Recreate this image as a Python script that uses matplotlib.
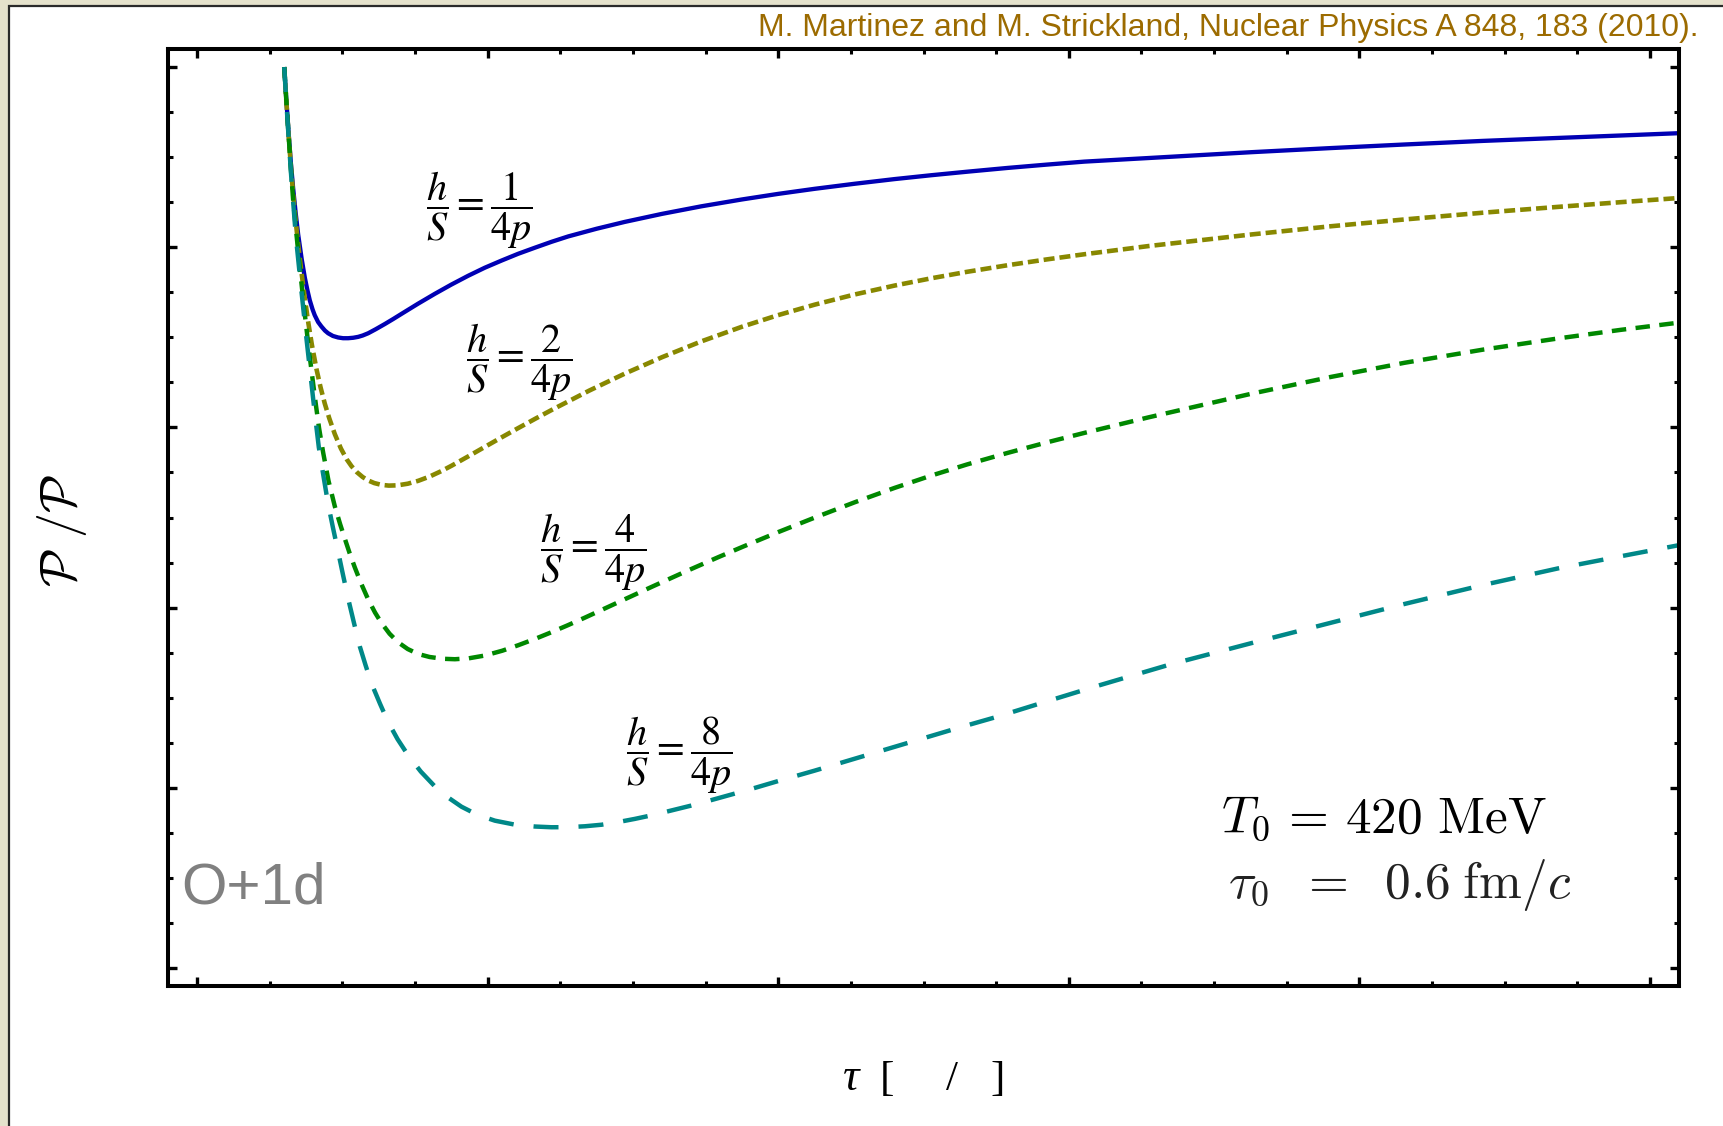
import matplotlib

matplotlib.use("Agg")

import matplotlib.pyplot as plt
from matplotlib.patches import Rectangle

plt.rcParams["lines.scale_dashes"] = False

# P_L/P_T versus tau (fm/c) for each eta/s value
tau_1 = [0.60, 0.615, 0.631, 0.646, 0.661, 0.678, 0.696, 0.72, 0.742, 0.76, 0.776, 0.795,
         0.81, 0.833, 0.856, 0.88, 0.902, 0.935, 0.971, 1.005, 1.04, 1.075, 1.109, 1.14,
         1.178, 1.23, 1.293, 1.35, 1.407, 1.52, 1.637, 1.75, 1.866, 1.98, 2.096, 2.21,
         2.326, 2.44, 2.555, 2.75, 2.944, 3.2, 3.471, 3.75, 4.0, 4.25, 4.525, 4.8, 5.053,
         5.3, 5.579, 5.85, 6.107, 6.55, 7.26, 7.8, 8.31, 8.85, 9.37, 9.8, 10.19]
ratio_1 = [1.000, 0.962, 0.925, 0.893, 0.866, 0.839, 0.814, 0.787, 0.766, 0.752, 0.741, 0.731,
           0.7245, 0.717, 0.712, 0.7075, 0.7045, 0.7015, 0.6998, 0.699, 0.699, 0.6995, 0.7005,
           0.702, 0.7045, 0.709, 0.7148, 0.7203, 0.726, 0.7372, 0.7483, 0.7585, 0.7683, 0.7772,
           0.7852, 0.7927, 0.7995, 0.806, 0.812, 0.8205, 0.8281, 0.837, 0.8454, 0.853, 0.8592,
           0.8648, 0.8704, 0.8756, 0.8799, 0.8838, 0.888, 0.8917, 0.895, 0.899, 0.9055, 0.910,
           0.914, 0.918, 0.9213, 0.924, 0.9265]

tau_2 = [0.60, 0.615, 0.631, 0.646, 0.661, 0.68, 0.70, 0.718, 0.74, 0.764, 0.79, 0.822, 0.85,
         0.879, 0.91, 0.948, 0.99, 1.03, 1.063, 1.1, 1.14, 1.178, 1.22, 1.27, 1.32, 1.38, 1.45,
         1.522, 1.6, 1.68, 1.751, 1.866, 1.981, 2.1, 2.21, 2.33, 2.44, 2.7, 2.944, 3.2, 3.471,
         3.75, 3.999, 4.25, 4.525, 4.8, 5.053, 5.3, 5.579, 5.85, 6.107, 6.55, 7.26, 7.8, 8.31,
         8.85, 9.37, 9.8, 10.19]
ratio_2 = [1.000, 0.961, 0.9226, 0.8896, 0.8596, 0.8273, 0.7973, 0.773, 0.7455, 0.7179, 0.6919,
           0.6647, 0.6445, 0.6265, 0.6101, 0.5926, 0.5766, 0.5646, 0.557, 0.5503, 0.5449, 0.5411,
           0.5382, 0.5362, 0.5354, 0.5357, 0.5375, 0.5407, 0.5454, 0.5514, 0.5574, 0.5678, 0.5784,
           0.5893, 0.5992, 0.6098, 0.6193, 0.6409, 0.6597, 0.6779, 0.6955, 0.7117, 0.7246, 0.7362,
           0.7475, 0.7574, 0.7655, 0.7727, 0.7800, 0.7865, 0.7922, 0.8013, 0.8142, 0.8232, 0.8308,
           0.8383, 0.8448, 0.8500, 0.8545]

tau_4 = [0.60, 0.615, 0.631, 0.646, 0.661, 0.68, 0.70, 0.718, 0.74, 0.76, 0.78, 0.799, 0.82,
         0.84, 0.868, 0.905, 0.948, 0.985, 1.017, 1.05, 1.086, 1.13, 1.178, 1.225, 1.269, 1.325,
         1.384, 1.45, 1.522, 1.6, 1.69, 1.775, 1.87, 1.981, 2.1, 2.21, 2.33, 2.44, 2.55, 2.67,
         2.79, 2.9, 3.129, 3.359, 3.588, 3.76, 4.0, 4.25, 4.525, 4.8, 5.053, 5.3, 5.579, 5.85,
         6.107, 6.55, 7.26, 7.8, 8.31, 8.85, 9.37, 9.8, 10.19]
ratio_4 = [1.000, 0.961, 0.922, 0.8865, 0.853, 0.821, 0.789, 0.761, 0.728, 0.700, 0.673, 0.6485,
           0.6225, 0.599, 0.572, 0.5405, 0.5125, 0.4925, 0.4765, 0.4605, 0.4445, 0.4265, 0.409,
           0.3945, 0.383, 0.371, 0.3615, 0.354, 0.3485, 0.3452, 0.3432, 0.3427, 0.3437, 0.3468,
           0.3521, 0.3582, 0.3655, 0.3727, 0.3803, 0.3889, 0.3978, 0.406, 0.423, 0.4398, 0.456,
           0.4678, 0.4838, 0.4998, 0.5168, 0.5328, 0.5465, 0.5589, 0.5717, 0.5834, 0.5939, 0.6112,
           0.6375, 0.6559, 0.6717, 0.6863, 0.6988, 0.7083, 0.7161]

tau_8 = [0.60, 0.615, 0.631, 0.65, 0.68, 0.718, 0.75, 0.783, 0.81, 0.838, 0.87, 0.902, 0.935,
         0.971, 1.005, 1.04, 1.08, 1.12, 1.16, 1.2, 1.26, 1.315, 1.38, 1.453, 1.54, 1.637, 1.73,
         1.82, 1.93, 2.05, 2.19, 2.326, 2.44, 2.555, 2.67, 2.784, 2.9, 3.014, 3.13, 3.244, 3.42,
         3.588, 3.8, 4.0, 4.25, 4.5, 4.75, 5.0, 5.25, 5.5, 5.85, 6.205, 6.7, 7.26, 7.8, 8.31,
         8.85, 9.37, 9.8, 10.19]
ratio_8 = [1.000, 0.960, 0.920, 0.874, 0.812, 0.752, 0.703, 0.655, 0.616, 0.578, 0.546, 0.515,
           0.489, 0.462, 0.436, 0.410, 0.383, 0.357, 0.336, 0.316, 0.293, 0.273, 0.254, 0.236,
           0.218, 0.2015, 0.189, 0.179, 0.170, 0.1635, 0.159, 0.157, 0.1562, 0.1563, 0.1573,
           0.159, 0.162, 0.1655, 0.1695, 0.174, 0.181, 0.1885, 0.198, 0.2075, 0.219, 0.231, 0.243,
           0.255, 0.267, 0.2785, 0.296, 0.3135, 0.337, 0.3607, 0.383, 0.404, 0.425, 0.4436, 0.457,
           0.469]

labels = [r"$\dfrac{h}{S} = \dfrac{1}{4p}$", r"$\dfrac{h}{S} = \dfrac{2}{4p}$",
          r"$\dfrac{h}{S} = \dfrac{4}{4p}$", r"$\dfrac{h}{S} = \dfrac{8}{4p}$"]
label_tau = [1.942, 2.218, 2.727, 3.320]
label_ratio = [0.841, 0.672, 0.461, 0.236]

W, H = 1724, 1126


def fx(px):
    return px / W


def fy(py):
    return 1 - py / H


fig = plt.figure(figsize=(W / 100, H / 100), dpi=100, facecolor="#E5E2CC")
fig.add_artist(Rectangle((fx(9.5), -0.05), 1.1, fy(6) + 0.05, transform=fig.transFigure,
                         facecolor="white", edgecolor="#2a2a2a", lw=1.6, zorder=-1))

ax = fig.add_axes([fx(168), fy(986), (1679 - 168) / W, (986 - 49) / H])
ax.plot(tau_1, ratio_1, color="#0000B4", lw=3.1, solid_capstyle="butt")
ax.plot(tau_2, ratio_2, color="#888800", lw=3.3, dashes=(7.9, 3.6), dash_capstyle="butt")
ax.plot(tau_4, ratio_4, color="#008800", lw=3.2, dashes=(10.4, 6.8), dash_capstyle="butt")
ax.plot(tau_8, ratio_8, color="#008888", lw=3.2, dashes=(18, 14.4), dash_capstyle="butt")

for txt, x, y in zip(labels, label_tau, label_ratio):
    ax.text(x, y, txt, fontsize=29, math_fontfamily="stix", ha="center", va="center")

ax.set_xlim(-0.2, 10.2)
ax.set_ylim(-0.02, 1.02)
ax.set_xticks([0, 2, 4, 6, 8, 10])
ax.set_xticks([t * 0.5 for t in range(21) if t % 4], minor=True)
ax.set_yticks([0, 0.2, 0.4, 0.6, 0.8, 1.0])
ax.set_yticks([t * 0.05 for t in range(21) if t % 4], minor=True)
ax.tick_params(which="both", direction="in", top=True, right=True,
               labelbottom=False, labelleft=False, color="black")
ax.tick_params(which="major", length=6.2, width=2.4)
ax.tick_params(which="minor", length=3.4, width=2.2)
for sp in ax.spines.values():
    sp.set_linewidth(2.9)

fig.text(fx(1699), fy(36), "M. Martinez and M. Strickland, Nuclear Physics A 848, 183 (2010).",
         family="Liberation Sans", fontsize=23, color="#9C6B00", ha="right", va="baseline")
fig.text(fx(181), fy(904), "O+1d", family="Liberation Sans", fontsize=42,
         color="#808080", ha="left", va="baseline")
fig.text(fx(1221), fy(832), r"$T_0 \,=\, 420\ \mathrm{MeV}$", math_fontfamily="cm",
         fontsize=37, ha="left", va="baseline")
fig.text(fx(1228), fy(898), r"$\tau_0\ \;=\ \;0.6\;\mathrm{fm}/c$", math_fontfamily="cm",
         fontsize=37, color="#222222", ha="left", va="baseline")
fig.text(fx(62), fy(531), r"$\mathcal{P}\ /\mathcal{P}$", math_fontfamily="cm",
         fontsize=36, rotation=90, ha="center", va="center")

# x label: glyphs placed one by one (units are missing in the original)
fig.text(fx(843), fy(1090), "τ", family="Liberation Serif", style="italic", fontsize=33,
         va="baseline")
for ch, px in [("[", 880), ("/", 946), ("]", 990)]:
    fig.text(fx(px), fy(1090), ch, family="Liberation Serif", fontsize=31, va="baseline")

fig.savefig("out.png", dpi=100, facecolor=fig.get_facecolor())
